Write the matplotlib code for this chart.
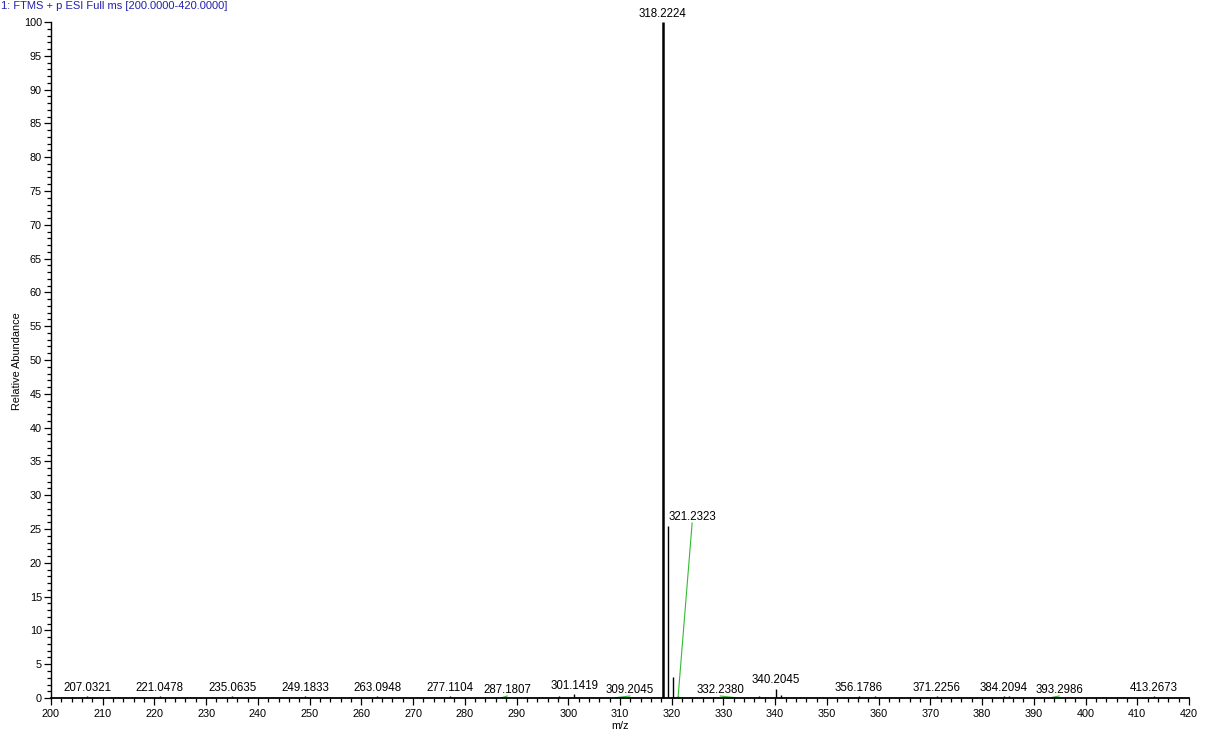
import matplotlib
matplotlib.use('Agg')
from matplotlib import pyplot as plt
from matplotlib.ticker import MultipleLocator

plt.rcParams['font.family'] = ['Liberation Sans', 'DejaVu Sans']

# labelled peaks (m/z, relative abundance)
peak_mz = [207.0321, 221.0478, 235.0635, 249.1833, 263.0948, 277.1104,
           287.1807, 301.1419, 309.2045, 318.2224, 321.2323, 332.2380,
           340.2045, 356.1786, 371.2256, 384.2094, 393.2986, 413.2673]
peak_int = [0.3, 0.3, 0.3, 0.3, 0.3, 0.3,
            0.2, 0.6, 0.2, 100.0, 0.3, 0.2,
            1.4, 0.3, 0.3, 0.3, 0.2, 0.3]

# unlabelled peaks
other_mz = [319.2258, 320.2290, 341.2080, 204.1, 212.9, 216.2, 226.9, 231.1,
            239.0, 243.2, 253.1, 257.9, 267.1, 271.0, 282.2, 291.9, 295.0,
            298.2, 304.9, 313.2, 325.9, 328.2, 336.9, 344.8, 349.3, 353.1,
            359.3, 361.2, 366.0, 369.1, 375.3, 379.0, 385.2, 389.9, 397.3,
            403.3, 407.2, 414.9]
other_int = [25.4, 3.1, 0.5, 0.2, 0.2, 0.2, 0.2, 0.2,
             0.2, 0.2, 0.2, 0.2, 0.2, 0.2, 0.2, 0.2, 0.2,
             0.3, 0.2, 0.2, 0.2, 0.2, 0.3, 0.2, 0.2, 0.2,
             0.3, 0.2, 0.2, 0.2, 0.2, 0.2, 0.3, 0.2, 0.2,
             0.2, 0.2, 0.2]

# labels moved off their peak, drawn with a green leader (label x, label y)
moved = {287.1807: (288.2, 0.3), 309.2045: (311.9, 0.3),
         321.2323: (323.95, 25.9), 332.2380: (329.4, 0.3),
         393.2986: (394.9, 0.3)}

fig = plt.figure(figsize=(12.05, 7.36), dpi=100)
ax = fig.add_axes([0.0423, 0.0516, 0.9444, 0.9185])

ax.vlines(other_mz, 0, other_int, color='black', lw=1.0)
ax.vlines(peak_mz, 0, peak_int, color='black',
          lw=[1.8 if v > 50 else 1.0 for v in peak_int])

for mz, inten in zip(peak_mz, peak_int):
    txt = '%.4f' % mz
    if mz in moved:
        lx, ly = moved[mz]
        ax.plot([mz, lx], [inten * 0.3, ly], color='#33bb33', lw=0.8,
                clip_on=False)
        ax.text(lx, ly, txt, ha='center', va='bottom', fontsize=8.3,
                clip_on=False)
    else:
        ax.annotate(txt, (mz, inten), xytext=(0, 1.5),
                    textcoords='offset points', ha='center', va='bottom',
                    fontsize=8.3, annotation_clip=False)

ax.set_xlim(200, 420)
ax.set_ylim(0, 100)
ax.xaxis.set_major_locator(MultipleLocator(10))
ax.xaxis.set_minor_locator(MultipleLocator(2))
ax.yaxis.set_major_locator(MultipleLocator(5))
ax.yaxis.set_minor_locator(MultipleLocator(1))
ax.tick_params(which='major', length=5, width=0.9, labelsize=7.8, pad=1.5)
ax.tick_params(which='minor', length=3, width=0.9)
ax.tick_params(axis='x', which='major', pad=3)

for s in ['top', 'right']:
    ax.spines[s].set_visible(False)
ax.spines['left'].set_linewidth(1.0)
ax.spines['bottom'].set_linewidth(1.3)

ax.set_xlabel('m/z', fontsize=7.8, labelpad=1)
fig.text(0.0137, 0.51, 'Relative Abundance', rotation=90, fontsize=7.8,
         ha='center', va='center')
fig.text(0.001, 0.999, '1: FTMS + p ESI Full ms [200.0000-420.0000]',
         color='#2222aa', fontsize=8, ha='left', va='top')

fig.savefig('out.png', dpi=100)
